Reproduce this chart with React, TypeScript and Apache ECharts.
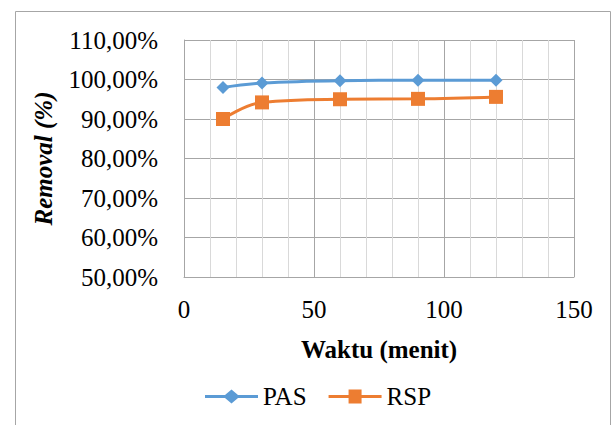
import React, { useEffect, useRef } from "react";
import * as echarts from "echarts";

const waktu = [15, 30, 60, 90, 120];
const pas = [98.0, 99.1, 99.7, 99.8, 99.8];
const rsp = [90.0, 94.2, 95.0, 95.1, 95.6];
const seriesNames = ["PAS", "RSP"];
const xTitle = "Waktu (menit)";
const yTitleA = "Removal";
const yTitleB = "(%)";

const FONT = "Liberation Serif";

const ICON_DIAMOND = "path://M0 5.5 H20 L26.5 0 L33 5.5 H53 V8.5 H33 L26.5 14 L20 8.5 H0 Z";
const ICON_SQUARE = "path://M0 5.5 H20 V0 H33 V5.5 H53 V8.5 H33 V14 H20 V8.5 H0 Z";

export default function App() {
  const ref = useRef<HTMLDivElement>(null);
  useEffect(() => {
    if (!ref.current) return;
    const chart = echarts.init(ref.current, undefined, { renderer: "svg" });
    chart.setOption({
      animation: false,
      backgroundColor: "#ffffff",
      textStyle: { fontFamily: FONT },
      graphic: [
        {
          type: "rect",
          shape: { x: 15.5, y: 11.5, width: 595, height: 430 },
          style: { fill: "none", stroke: "#a6a6a6", lineWidth: 1 },
          silent: true,
          z: -1,
        },
      ],
      grid: { left: 184, right: 42, top: 40, bottom: 148 },
      legend: {
        left: 200,
        top: 379,
        itemWidth: 53,
        itemHeight: 14,
        itemGap: 22,
        textStyle: { fontFamily: FONT, fontSize: 25, color: "#000" },
        data: [
          { name: seriesNames[0], icon: ICON_DIAMOND, itemStyle: { color: "#5B9BD5" } },
          { name: seriesNames[1], icon: ICON_SQUARE, itemStyle: { color: "#ED7D31" } },
        ],
      },
      xAxis: {
        type: "value",
        min: 0,
        max: 150,
        interval: 50,
        name: xTitle,
        nameLocation: "middle",
        nameGap: 60,
        nameTextStyle: { fontFamily: FONT, fontSize: 25, fontWeight: "bold", color: "#000" },
        axisLine: { show: true, lineStyle: { color: "#a6a6a6", width: 1 } },
        axisTick: { show: false },
        axisLabel: { fontFamily: FONT, fontSize: 25, color: "#000", margin: 20 },
        splitLine: { show: true, lineStyle: { color: "#a6a6a6", width: 1 } },
        minorTick: { show: false, splitNumber: 5 },
        minorSplitLine: { show: true, lineStyle: { color: "#d9d9d9", width: 1 } },
      },
      yAxis: {
        type: "value",
        min: 50,
        max: 110,
        interval: 10,
        name: `{a|${yTitleA}} {b|${yTitleB}}`,
        nameLocation: "middle",
        nameGap: 128,
        nameTextStyle: {
          fontFamily: FONT,
          fontSize: 25,
          fontWeight: "bold",
          color: "#000",
          rich: {
            a: { fontFamily: FONT, fontSize: 25, fontWeight: "bold", fontStyle: "italic", color: "#000" },
            b: { fontFamily: FONT, fontSize: 25, fontWeight: "bold", fontStyle: "italic", color: "#000" },
          },
        },
        axisLine: { show: true, lineStyle: { color: "#a6a6a6", width: 1 } },
        axisTick: { show: false },
        axisLabel: {
          fontFamily: FONT,
          fontSize: 25,
          color: "#000",
          margin: 26,
          formatter: (v: number) => v.toFixed(2).replace(".", ",") + "%",
        },
        splitLine: { show: true, lineStyle: { color: "#a6a6a6", width: 1 } },
      },
      series: [
        {
          name: seriesNames[0],
          type: "line",
          smooth: 0.4,
          data: waktu.map((x, i) => [x, pas[i]]),
          symbol: "diamond",
          symbolSize: 13,
          lineStyle: { color: "#5B9BD5", width: 3 },
          itemStyle: { color: "#5B9BD5" },
        },
        {
          name: seriesNames[1],
          type: "line",
          smooth: 0.4,
          data: waktu.map((x, i) => [x, rsp[i]]),
          symbol: "rect",
          symbolSize: 14,
          lineStyle: { color: "#ED7D31", width: 3 },
          itemStyle: { color: "#ED7D31" },
        },
      ],
    });
    return () => chart.dispose();
  }, []);
  return (
    <div
      ref={ref}
      style={{ position: "fixed", left: 0, top: 0, width: 616, height: 425, background: "#fff" }}
    />
  );
}
